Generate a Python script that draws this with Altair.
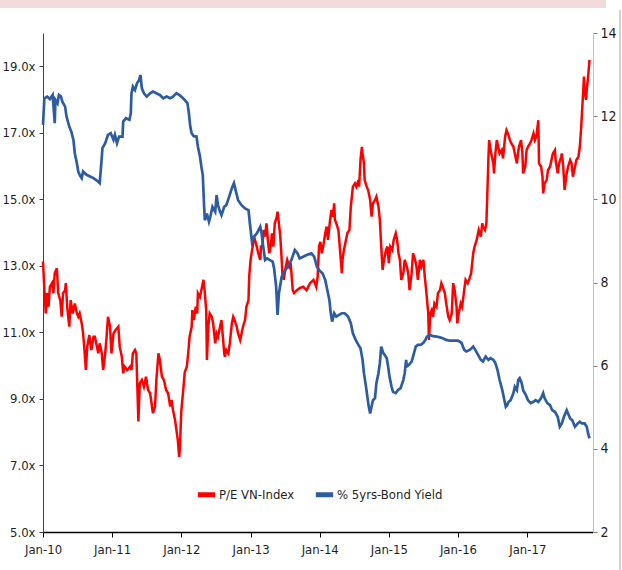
import altair as alt
import pandas as pd

PE_NAME = "P/E VN-Index"
BY_NAME = "% 5yrs-Bond Yield"

# P/E VN-Index (left axis) - decimal year / value
pe_t = [2010.00, 2010.02, 2010.04, 2010.06, 2010.08, 2010.10, 2010.13, 2010.15, 2010.17, 2010.20,
        2010.22, 2010.25, 2010.27, 2010.29, 2010.32, 2010.33, 2010.35, 2010.38, 2010.40, 2010.43,
        2010.46, 2010.49, 2010.51, 2010.53, 2010.56, 2010.58, 2010.60, 2010.62, 2010.64, 2010.67,
        2010.70, 2010.73, 2010.75, 2010.78, 2010.80, 2010.82, 2010.85, 2010.87, 2010.90, 2010.92,
        2010.94, 2010.97, 2010.99, 2011.02, 2011.05, 2011.09, 2011.11, 2011.14, 2011.16, 2011.18,
        2011.22, 2011.26, 2011.28, 2011.30, 2011.33, 2011.35, 2011.38, 2011.40, 2011.43, 2011.46,
        2011.49, 2011.52, 2011.55, 2011.59, 2011.62, 2011.64, 2011.67, 2011.69, 2011.72, 2011.75,
        2011.78, 2011.81, 2011.84, 2011.86, 2011.88, 2011.91, 2011.93, 2011.95, 2011.97, 2011.98,
        2012.00, 2012.03, 2012.05, 2012.08, 2012.10, 2012.12, 2012.15, 2012.16, 2012.18, 2012.21,
        2012.23, 2012.24, 2012.27, 2012.29, 2012.32, 2012.34, 2012.36, 2012.37, 2012.39, 2012.41,
        2012.44, 2012.46, 2012.49, 2012.51, 2012.53, 2012.56, 2012.58, 2012.60, 2012.62, 2012.63,
        2012.65, 2012.68, 2012.70, 2012.73, 2012.75, 2012.77, 2012.80, 2012.82, 2012.85, 2012.87,
        2012.89, 2012.92, 2012.94, 2012.97, 2012.98, 2013.00, 2013.03, 2013.05, 2013.07, 2013.09,
        2013.11, 2013.14, 2013.15, 2013.17, 2013.19, 2013.21, 2013.23, 2013.25, 2013.27, 2013.29,
        2013.31, 2013.33, 2013.35, 2013.38, 2013.39, 2013.41, 2013.43, 2013.45, 2013.46, 2013.48,
        2013.51, 2013.53, 2013.56, 2013.58, 2013.61, 2013.63, 2013.67, 2013.71, 2013.76, 2013.81,
        2013.86, 2013.91, 2013.95, 2013.97, 2013.99, 2014.01, 2014.03, 2014.05, 2014.08, 2014.10,
        2014.12, 2014.15, 2014.17, 2014.19, 2014.21, 2014.22, 2014.24, 2014.27, 2014.29, 2014.32,
        2014.33, 2014.35, 2014.38, 2014.40, 2014.43, 2014.45, 2014.46, 2014.48, 2014.51, 2014.53,
        2014.56, 2014.57, 2014.59, 2014.61, 2014.62, 2014.64, 2014.65, 2014.68, 2014.70, 2014.73,
        2014.75, 2014.77, 2014.80, 2014.82, 2014.85, 2014.87, 2014.89, 2014.91, 2014.93, 2014.96,
        2014.98, 2015.00, 2015.02, 2015.05, 2015.07, 2015.10, 2015.12, 2015.14, 2015.16, 2015.18,
        2015.21, 2015.23, 2015.26, 2015.28, 2015.30, 2015.33, 2015.35, 2015.38, 2015.40, 2015.42,
        2015.45, 2015.47, 2015.50, 2015.52, 2015.54, 2015.57, 2015.58, 2015.60, 2015.62, 2015.64,
        2015.66, 2015.69, 2015.71, 2015.74, 2015.76, 2015.78, 2015.81, 2015.83, 2015.86, 2015.88,
        2015.91, 2015.93, 2015.95, 2015.98, 2015.99, 2016.01, 2016.04, 2016.06, 2016.09, 2016.11,
        2016.14, 2016.16, 2016.19, 2016.20, 2016.22, 2016.24, 2016.27, 2016.29, 2016.30, 2016.33,
        2016.35, 2016.36, 2016.39, 2016.41, 2016.43, 2016.44, 2016.45, 2016.47, 2016.49, 2016.51,
        2016.52, 2016.54, 2016.56, 2016.58, 2016.60, 2016.63, 2016.65, 2016.68, 2016.70, 2016.72,
        2016.75, 2016.77, 2016.80, 2016.82, 2016.85, 2016.86, 2016.88, 2016.91, 2016.93, 2016.94,
        2016.97, 2016.99, 2017.01, 2017.04, 2017.06, 2017.09, 2017.11, 2017.13, 2017.16, 2017.17,
        2017.20, 2017.22, 2017.23, 2017.25, 2017.28, 2017.30, 2017.33, 2017.35, 2017.37, 2017.40,
        2017.41, 2017.44, 2017.46, 2017.49, 2017.50, 2017.52, 2017.54, 2017.57, 2017.59, 2017.62,
        2017.64, 2017.66, 2017.69, 2017.71, 2017.74, 2017.76, 2017.78, 2017.81, 2017.82, 2017.83,
        2017.85, 2017.86, 2017.88, 2017.90]
pe_v = [13.13, 12.27, 11.57, 12.18, 11.77, 12.37, 12.48, 12.18, 12.78, 12.93,
        12.18, 11.97, 11.47, 12.18, 12.27, 12.48, 11.77, 11.17, 11.97, 11.57,
        11.87, 11.57, 11.47, 11.57, 11.27, 10.97, 10.47, 9.87, 10.57, 10.92,
        10.47, 10.87, 10.87, 10.57, 10.37, 10.67, 10.37, 9.87, 10.37, 10.87,
        11.47, 11.17, 10.37, 10.97, 11.07, 11.17, 10.57, 10.27, 9.77, 9.97,
        9.87, 9.97, 9.87, 10.37, 10.47, 10.37, 8.32, 9.47, 9.57, 9.37,
        9.67, 9.27, 9.17, 8.57, 8.77, 9.57, 10.37, 10.17, 9.67, 9.57,
        9.27, 9.17, 8.77, 8.97, 8.67, 8.37, 8.07, 7.77, 7.26, 7.50,
        8.62, 9.30, 9.80, 9.97, 10.37, 10.87, 11.17, 11.67, 11.37, 11.77,
        11.57, 12.18, 12.07, 12.27, 12.58, 12.18, 11.67, 10.17, 11.17, 11.57,
        11.47, 11.27, 10.67, 10.97, 10.87, 11.17, 11.37, 10.87, 10.37, 10.27,
        10.47, 10.37, 10.67, 11.27, 11.47, 11.37, 11.17, 10.97, 10.77, 10.97,
        11.17, 11.37, 11.77, 11.97, 12.67, 13.18, 13.58, 13.88, 13.73, 13.58,
        13.38, 13.18, 13.58, 13.58, 14.08, 13.88, 14.28, 13.78, 13.38, 13.58,
        13.98, 13.58, 14.28, 14.48, 14.63, 14.28, 13.88, 13.18, 12.78, 12.58,
        12.98, 13.18, 12.98, 13.08, 12.27, 12.18, 12.27, 12.33, 12.37, 12.27,
        12.48, 12.58, 12.37, 12.67, 13.58, 13.72, 13.38, 13.58, 13.98, 14.18,
        13.78, 14.38, 14.68, 14.48, 14.88, 14.38, 14.28, 14.08, 13.58, 12.78,
        13.18, 13.48, 13.78, 13.98, 14.08, 14.78, 14.98, 15.38, 15.48, 15.38,
        15.58, 15.38, 16.18, 16.58, 16.38, 16.08, 15.58, 15.38, 15.28, 14.98,
        14.48, 14.88, 14.98, 15.08, 14.78, 14.38, 13.58, 12.88, 13.18, 13.48,
        13.58, 13.08, 13.58, 13.48, 13.78, 13.98, 13.78, 13.38, 13.18, 12.58,
        12.78, 13.18, 12.98, 12.78, 12.27, 12.78, 13.38, 13.18, 12.98, 12.58,
        13.18, 12.98, 13.18, 12.67, 12.27, 11.57, 10.77, 11.57, 11.67, 11.47,
        11.87, 11.77, 12.18, 12.27, 12.48, 12.37, 12.18, 11.87, 11.47, 11.37,
        11.57, 12.48, 12.30, 11.77, 11.27, 11.57, 11.87, 11.77, 12.27, 12.58,
        12.48, 12.58, 12.78, 12.98, 13.38, 13.58, 13.78, 13.98, 14.08, 13.88,
        14.28, 14.18, 14.08, 14.28, 15.58, 16.28, 16.78, 16.48, 16.28, 16.08,
        15.78, 16.38, 16.78, 16.58, 16.38, 16.48, 16.23, 16.88, 17.08, 16.98,
        16.78, 16.68, 16.58, 16.38, 16.08, 16.28, 16.58, 16.78, 16.38, 15.78,
        15.98, 16.48, 16.58, 16.68, 16.78, 16.98, 16.78, 16.88, 17.38, 16.08,
        15.98, 15.68, 15.18, 15.48, 15.58, 15.88, 15.98, 16.18, 16.38, 16.48,
        16.18, 15.78, 16.08, 16.28, 16.38, 15.98, 15.28, 15.78, 15.98, 16.18,
        16.08, 15.68, 15.98, 16.18, 16.28, 16.58, 17.18, 18.29, 18.69, 18.29,
        17.99, 18.29, 18.69, 19.19]

# % 5yrs-Bond Yield (right axis)
by_t = [2010.00, 2010.02, 2010.06, 2010.10, 2010.14, 2010.17, 2010.18, 2010.21, 2010.23, 2010.26,
        2010.28, 2010.32, 2010.34, 2010.38, 2010.41, 2010.44, 2010.46, 2010.49, 2010.51, 2010.53,
        2010.56, 2010.58, 2010.63, 2010.68, 2010.73, 2010.78, 2010.82, 2010.84, 2010.86, 2010.90,
        2010.94, 2010.98, 2011.02, 2011.04, 2011.07, 2011.10, 2011.15, 2011.16, 2011.20, 2011.25,
        2011.27, 2011.28, 2011.30, 2011.33, 2011.36, 2011.39, 2011.41, 2011.43, 2011.46, 2011.50,
        2011.55, 2011.59, 2011.64, 2011.69, 2011.74, 2011.79, 2011.84, 2011.88, 2011.93, 2011.97,
        2012.00, 2012.05, 2012.09, 2012.11, 2012.13, 2012.15, 2012.18, 2012.22, 2012.24, 2012.27,
        2012.29, 2012.31, 2012.32, 2012.33, 2012.34, 2012.36, 2012.37, 2012.40, 2012.42, 2012.45,
        2012.49, 2012.51, 2012.53, 2012.56, 2012.58, 2012.62, 2012.65, 2012.69, 2012.73, 2012.76,
        2012.79, 2012.82, 2012.87, 2012.92, 2012.97, 2012.99, 2013.02, 2013.05, 2013.09, 2013.14,
        2013.16, 2013.18, 2013.21, 2013.24, 2013.28, 2013.32, 2013.34, 2013.37, 2013.39, 2013.41,
        2013.45, 2013.50, 2013.54, 2013.59, 2013.64, 2013.68, 2013.71, 2013.76, 2013.81, 2013.88,
        2013.92, 2013.96, 2014.00, 2014.04, 2014.08, 2014.11, 2014.14, 2014.16, 2014.18, 2014.21,
        2014.24, 2014.28, 2014.32, 2014.36, 2014.41, 2014.45, 2014.48, 2014.52, 2014.56, 2014.59,
        2014.62, 2014.64, 2014.67, 2014.69, 2014.71, 2014.73, 2014.75, 2014.77, 2014.80, 2014.82,
        2014.85, 2014.87, 2014.89, 2014.92, 2014.94, 2014.97, 2014.99, 2015.01, 2015.04, 2015.06,
        2015.10, 2015.13, 2015.17, 2015.21, 2015.23, 2015.25, 2015.26, 2015.29, 2015.33, 2015.35,
        2015.39, 2015.42, 2015.46, 2015.50, 2015.53, 2015.55, 2015.59, 2015.64, 2015.69, 2015.74,
        2015.78, 2015.83, 2015.88, 2015.93, 2016.00, 2016.05, 2016.09, 2016.12, 2016.17, 2016.22,
        2016.25, 2016.29, 2016.33, 2016.36, 2016.40, 2016.44, 2016.47, 2016.51, 2016.54, 2016.57,
        2016.60, 2016.64, 2016.67, 2016.69, 2016.71, 2016.73, 2016.76, 2016.80, 2016.82, 2016.85,
        2016.87, 2016.89, 2016.92, 2016.94, 2016.98, 2017.01, 2017.05, 2017.09, 2017.12, 2017.16,
        2017.20, 2017.23, 2017.25, 2017.29, 2017.33, 2017.36, 2017.40, 2017.44, 2017.47, 2017.50,
        2017.53, 2017.57, 2017.59, 2017.62, 2017.65, 2017.69, 2017.73, 2017.76, 2017.79, 2017.83,
        2017.86, 2017.88, 2017.90]
by_v = [11.79, 12.43, 12.47, 12.41, 12.51, 11.83, 12.39, 12.31, 12.51, 12.47,
        12.35, 12.23, 11.99, 11.75, 11.63, 11.43, 11.11, 10.87, 10.67, 10.59,
        10.51, 10.67, 10.59, 10.55, 10.51, 10.45, 10.39, 10.79, 11.23, 11.35,
        11.55, 11.59, 11.43, 11.55, 11.35, 11.51, 11.51, 11.87, 11.95, 11.91,
        12.07, 12.55, 12.71, 12.63, 12.79, 12.87, 12.99, 12.67, 12.55, 12.47,
        12.55, 12.59, 12.55, 12.51, 12.43, 12.47, 12.43, 12.47, 12.55, 12.51,
        12.47, 12.39, 12.31, 12.07, 11.75, 11.59, 11.52, 11.51, 11.27, 11.03,
        10.79, 10.59, 10.22, 9.82, 9.50, 9.58, 9.66, 9.46, 9.58, 9.82,
        9.70, 10.10, 9.86, 9.70, 9.62, 9.82, 9.86, 10.06, 10.27, 10.39,
        10.18, 9.98, 9.86, 9.78, 9.74, 9.42, 8.98, 9.10, 9.18, 9.34,
        9.18, 8.90, 8.54, 8.58, 8.54, 8.50, 8.34, 7.90, 7.22, 7.74,
        8.14, 8.30, 8.38, 8.54, 8.78, 8.70, 8.58, 8.62, 8.66, 8.70,
        8.62, 8.38, 8.28, 8.22, 8.06, 7.82, 7.58, 7.26, 7.06, 7.26,
        7.18, 7.22, 7.26, 7.26, 7.18, 7.02, 6.78, 6.62, 6.50, 6.42,
        6.14, 5.82, 5.49, 5.25, 5.01, 4.85, 5.01, 5.17, 5.22, 5.58,
        5.82, 6.06, 6.46, 6.30, 6.26, 6.18, 5.98, 5.73, 5.49, 5.37,
        5.34, 5.41, 5.46, 5.66, 5.82, 6.14, 5.98, 6.02, 6.10, 6.22,
        6.46, 6.50, 6.50, 6.55, 6.62, 6.70, 6.74, 6.71, 6.70, 6.68,
        6.66, 6.62, 6.60, 6.60, 6.60, 6.55, 6.38, 6.34, 6.38, 6.46,
        6.38, 6.26, 6.14, 6.10, 6.22, 6.14, 6.18, 6.14, 6.06, 5.90,
        5.66, 5.41, 5.17, 5.01, 5.05, 5.13, 5.17, 5.34, 5.49, 5.41,
        5.66, 5.70, 5.58, 5.41, 5.29, 5.17, 5.10, 5.13, 5.17, 5.13,
        5.22, 5.34, 5.22, 5.10, 5.05, 4.93, 4.89, 4.77, 4.53, 4.61,
        4.77, 4.93, 4.85, 4.73, 4.69, 4.53, 4.61, 4.65, 4.61, 4.61,
        4.53, 4.37, 4.25]

pe_ticks = [5, 7, 9, 11, 13, 15, 17, 19]
by_ticks = [2, 4, 6, 8, 10, 12, 14]


def to_ts(t):
    y = int(round(t * 100)) // 100
    frac = t - y
    start = pd.Timestamp(year=y, month=1, day=1)
    end = pd.Timestamp(year=y + 1, month=1, day=1)
    return (start + (end - start) * frac).strftime("%Y-%m-%dT%H:%M:%S")


pe_df = pd.DataFrame({"date": [to_ts(t) for t in pe_t], "v": pe_v, "series": PE_NAME})
by_df = pd.DataFrame({"date": [to_ts(t) for t in by_t], "v": by_v, "series": BY_NAME})

FONT = "'Liberation Sans Narrow', 'DejaVu Sans Condensed', 'Liberation Sans', sans-serif"
LABEL_COLOR = "#1f1f1f"
FS = 13

color = alt.Color(
    "series:N",
    scale=alt.Scale(domain=[PE_NAME, BY_NAME], range=["#ff0000", "#2e5ca2"]),
    legend=alt.Legend(
        title=None, orient="none", legendX=152, legendY=450, direction="horizontal",
        symbolType="stroke", symbolStrokeWidth=5, symbolSize=300,
        labelFont=FONT, labelFontSize=FS, labelColor=LABEL_COLOR,
        columnPadding=10, labelOffset=1, padding=0,
    ),
)

x = alt.X(
    "date:T",
    scale=alt.Scale(domain=["2010-01-01T00:00:00", "2017-12-14T00:00:00"]),
    axis=alt.Axis(
        title=None, format="%b-%y", tickCount={"interval": "year", "step": 1},
        grid=False, domainColor="#000000", domainWidth=1.5, tickColor="#000000",
        tickSize=5, labelFont=FONT, labelFontSize=FS, labelColor=LABEL_COLOR,
        labelPadding=6, labelFlush=False, labelOverlap=False,
    ),
)

pe_line = alt.Chart(pe_df).mark_line(strokeWidth=2.5).encode(
    x=x,
    y=alt.Y(
        "v:Q",
        scale=alt.Scale(domain=[5, 20], nice=False, zero=False),
        axis=alt.Axis(
            title=None, orient="left", values=pe_ticks, grid=False,
            labelExpr="format(datum.value, '.1f') + 'x'",
            domainColor="#404040", tickColor="#404040", tickSize=4,
            labelFont=FONT, labelFontSize=FS, labelColor=LABEL_COLOR, labelPadding=4,
        ),
    ),
    color=color,
)

by_line = alt.Chart(by_df).mark_line(strokeWidth=2.7).encode(
    x=x,
    y=alt.Y(
        "v:Q",
        scale=alt.Scale(domain=[2, 14], nice=False, zero=False),
        axis=alt.Axis(
            title=None, orient="right", values=by_ticks, grid=False,
            domainColor="#c0c0c0", tickColor="#808080", tickSize=4,
            labelFont=FONT, labelFontSize=FS + 1, labelColor=LABEL_COLOR, labelPadding=3,
        ),
    ),
    color=color,
)

deco = pd.DataFrame({"k": [0]})
top_band = alt.Chart(deco).mark_rect(color="#f2dcdb").encode(
    x=alt.value(-43), x2=alt.value(563), y=alt.value(-33), y2=alt.value(-25)
)
right_border = alt.Chart(deco).mark_rule(color="#a6a6a6", strokeWidth=1).encode(
    x=alt.value(577), y=alt.value(-23), y2=alt.value(537)
)

chart = (
    alt.layer(top_band, right_border, pe_line, by_line)
    .resolve_scale(y="independent")
    .properties(
        width=550, height=499, autosize="none",
        padding={"left": 43, "top": 33, "right": 29, "bottom": 38},
        background="white",
    )
    .configure_view(stroke=None)
)

chart.save("out.html", embed_options={"renderer": "svg", "actions": False})
